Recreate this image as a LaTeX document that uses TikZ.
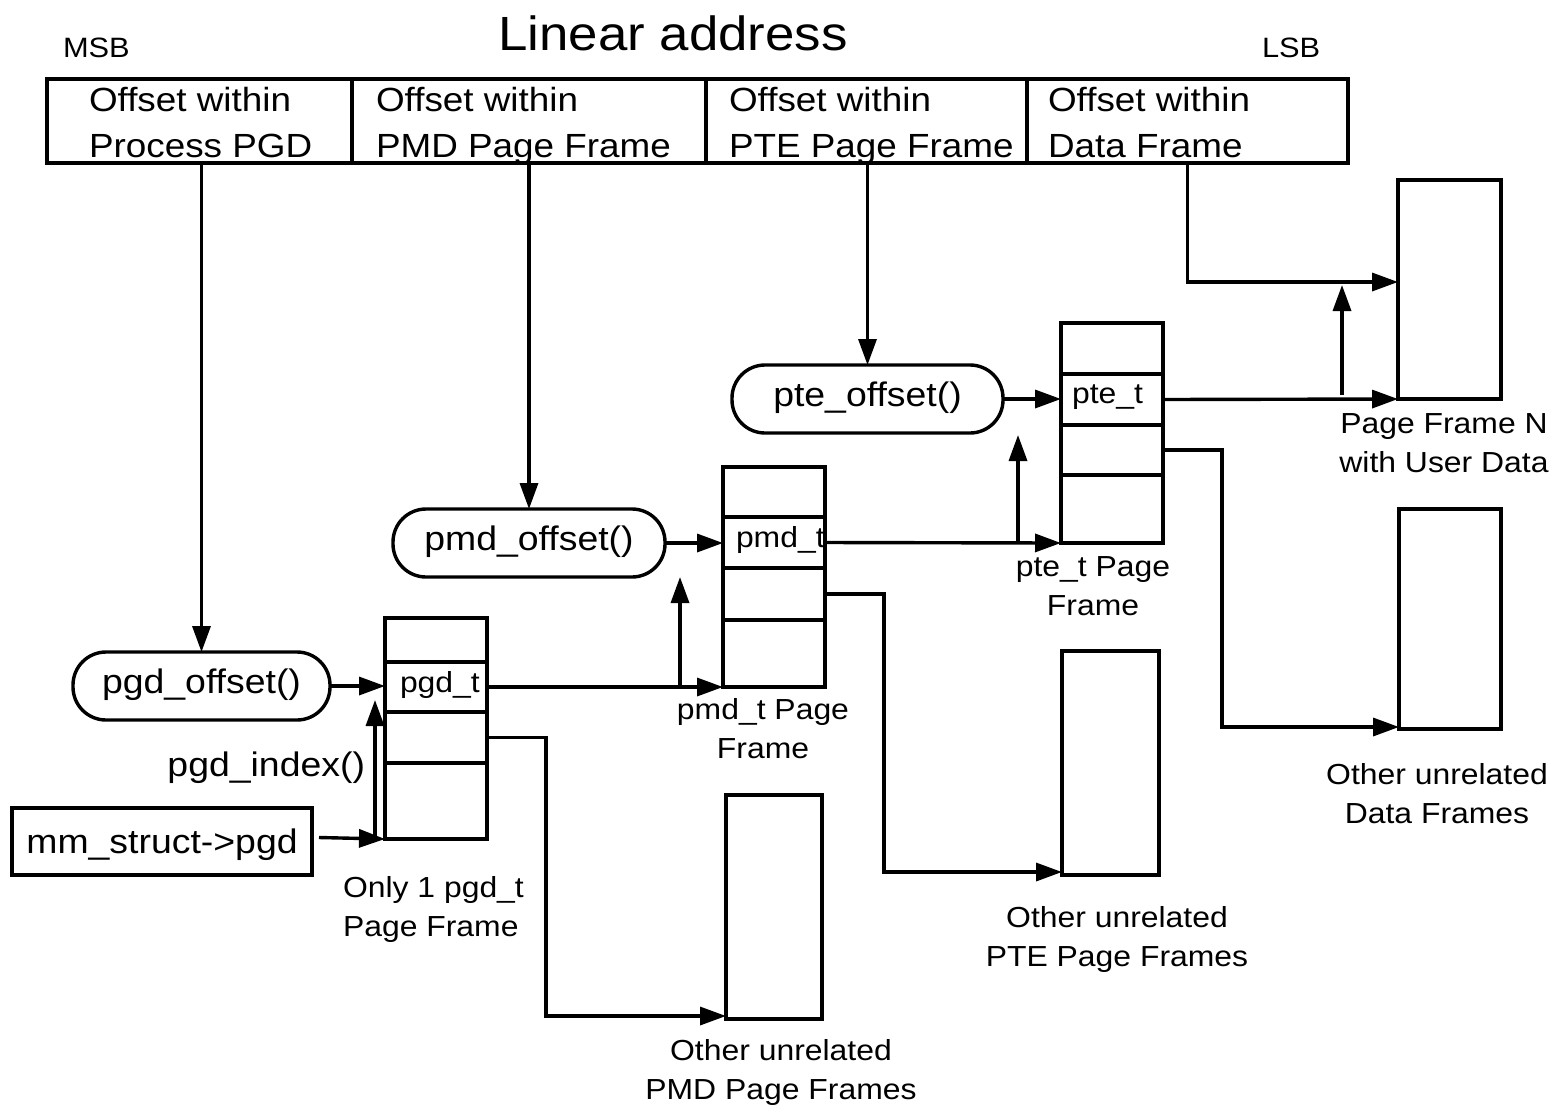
\documentclass[tikz,border=0pt]{standalone}
\usepackage{fontspec}
\setmainfont{Liberation Sans}[FakeStretch=1.1]
\usetikzlibrary{arrows.meta,calc}
\newcommand\fsTitle{\fontsize{48}{56}\selectfont}
\newcommand\fsMain{\fontsize{33.5}{46}\selectfont}
\newcommand\fsFun{\fontsize{34}{40}\selectfont}
\newcommand\fsCap{\fontsize{29}{39}\selectfont}
\newcommand\fsSmall{\fontsize{28}{34}\selectfont}
\begin{document}
\begin{tikzpicture}[x=1pt,y=-1pt,line width=3.4pt,
  every node/.style={outer sep=0pt},
  arr/.style={-{Triangle[length=26pt,width=18pt]}},
  field/.style={draw,anchor=north west,minimum height=84pt,inner sep=0pt},
  cell/.style={draw,anchor=north west,minimum width=102pt,inner sep=0pt},
  page/.style={draw,anchor=north west,inner sep=0pt},
  stad/.style={draw,rounded corners=33pt,minimum height=68pt,inner sep=0pt,text height=15pt,text depth=0pt,font=\fsFun},
  txt/.style={inner sep=0pt},
  captxt/.style={inner sep=0pt,anchor=north,align=center,font=\fsCap},
  celltxt/.style={inner sep=0pt,anchor=base west,font=\fsCap}]
\useasboundingbox (0,0) rectangle (1554,1106);

% title and ends
\node[txt,anchor=base,font=\fsTitle] (title) at (673,50) {Linear address};
\node[txt,anchor=base west,font=\fsSmall] (msb) at (63,57) {MSB};
\node[txt,anchor=base west,font=\fsSmall] (lsb) at (1262,57) {LSB};

% linear address fields
\node[field,minimum width=305pt] (f1) at (47,79) {};
\node[field,minimum width=354pt] (f2) at (352,79) {};
\node[field,minimum width=321pt] (f3) at (706,79) {};
\node[field,minimum width=321pt] (f4) at (1027,79) {};
\node[txt,anchor=north west,align=left,font=\fsMain] (t1) at (89,87) {Offset within\\Process PGD};
\node[txt,anchor=north west,align=left,font=\fsMain] (t2) at (376,87) {Offset within\\PMD Page Frame};
\node[txt,anchor=north west,align=left,font=\fsMain] (t3) at (729,87) {Offset within\\PTE Page Frame};
\node[txt,anchor=north west,align=left,font=\fsMain] (t4) at (1048,87) {Offset within\\Data Frame};

% function ovals
\node[stad,minimum width=257pt] (pgdoff) at (201.5,686) {pgd\_offset()};
\node[stad,minimum width=272pt] (pmdoff) at (529,543) {pmd\_offset()};
\node[stad,minimum width=271pt] (pteoff) at (867.5,399) {pte\_offset()};

% mm_struct
\node[draw,minimum width=300pt,minimum height=67pt,inner sep=0pt,text height=24pt,text depth=0pt,font=\fsFun] (mm) at (162,841.5) {mm\_struct->pgd};
\node[txt,anchor=base east,font=\fsFun] (pgdidx) at (365,776) {pgd\_index()};

% pgd frame
\node[cell,minimum height=44pt] (pgd0) at (385,618) {};
\node[cell,minimum height=50pt] (pgd1) at (385,662) {};
\node[cell,minimum height=51pt] (pgd2) at (385,712) {};
\node[cell,minimum height=76pt] (pgd3) at (385,763) {};
\node[celltxt] (pgdt) at (400,692) {pgd\_t};

% pmd frame
\node[cell,minimum height=50pt] (pmd0) at (723,467) {};
\node[cell,minimum height=51pt] (pmd1) at (723,517) {};
\node[cell,minimum height=52pt] (pmd2) at (723,568) {};
\node[cell,minimum height=67pt] (pmd3) at (723,620) {};
\node[celltxt] (pmdt) at (736,547) {pmd\_t};

% pte frame
\node[cell,minimum height=51pt] (pte0) at (1061,323) {};
\node[cell,minimum height=51pt] (pte1) at (1061,374) {};
\node[cell,minimum height=50pt] (pte2) at (1061,425) {};
\node[cell,minimum height=68pt] (pte3) at (1061,475) {};
\node[celltxt] (ptet) at (1072,403) {pte\_t};

% other page frames
\node[page,minimum width=103pt,minimum height=219pt] (pfn) at (1398,180) {};
\node[page,minimum width=102pt,minimum height=220pt] (odata) at (1399,509) {};
\node[page,minimum width=97pt,minimum height=224pt] (opte) at (1062,651) {};
\node[page,minimum width=96pt,minimum height=224pt] (opmd) at (726,795) {};

% captions
\node[captxt,anchor=north west,align=left] (c1) at (343,876) {Only 1 pgd\_t\\Page Frame};
\node[captxt] (c2) at (763,698) {pmd\_t Page\\Frame};
\node[captxt] (c3) at (1093,557) {pte\_t Page\\Frame};
\node[captxt] (c4) at (1444,414) {Page Frame N\\with User Data};
\node[captxt] (c5) at (1437,763) {Other unrelated\\Data Frames};
\node[captxt] (c6) at (1117,906) {Other unrelated\\PTE Page Frames};
\node[captxt] (c7) at (781,1039) {Other unrelated\\PMD Page Frames};

% stems from the linear address
\draw[arr] (pgdoff.north |- f1.south) -- (pgdoff.north);
\draw[arr] (pmdoff.north |- f2.south) -- (pmdoff.north);
\draw[arr] (pteoff.north |- f3.south) -- (pteoff.north);
\coordinate (pfnin) at ($(pfn.north west)+(0,102)$);
\draw[arr] (f4.south) |- (pfnin);

% pgd level
\draw[arr] (pgdoff.east) -- (pgdoff.east -| pgd1.west);
\draw[arr] ([xshift=7pt,yshift=4pt]mm.east) -- (pgd3.south west);
\draw[arr] ([xshift=-10pt]pgd3.south west) -- ++(0,-139);
\draw[arr] (pgd1.east) -- (pmd3.south west);
\draw[arr] ([xshift=-43pt]pmd3.south west) -- ++(0,-110);
\draw[arr] (pgd2.east) -- ++(59,0) |- ([yshift=3pt]opmd.south west);

% pmd level
\draw[arr] (pmdoff.east) -- (pmdoff.east -| pmd1.west);
\draw[arr] (pmd1.east) -- (pte3.south west);
\draw[arr] ([xshift=-43pt]pte3.south west) -- ++(0,-108);
\draw[arr] (pmd2.east) -- ++(59,0) |- ([yshift=3pt]opte.south west);

% pte level
\draw[arr] (pteoff.east) -- (pteoff.east -| pte1.west);
\draw[arr] (pte1.east) -- (pfn.south west);
\draw[arr] ([xshift=-56pt,yshift=4pt]pfn.south west) -- ++(0,-110);
\draw[arr] (pte2.east) -- ++(59,0) |- ([yshift=2pt]odata.south west);
\end{tikzpicture}
\end{document}
